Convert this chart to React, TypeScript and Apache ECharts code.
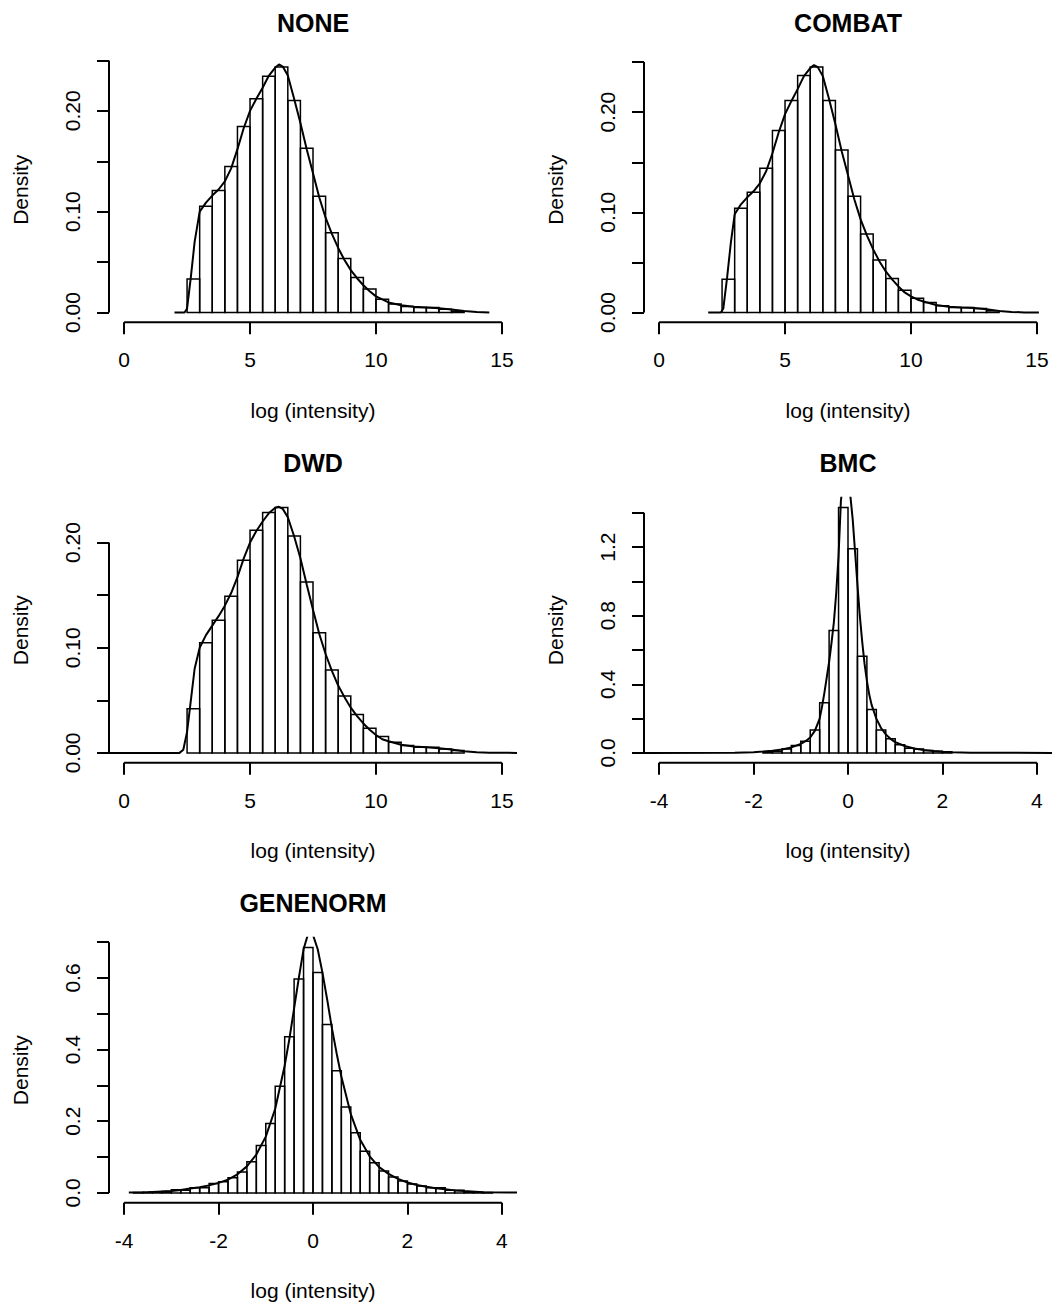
import React, { useEffect, useRef } from "react";
import * as echarts from "echarts";

const FONT = '"Liberation Sans", Arial, Helvetica, sans-serif';

// ---- Text ----
const TITLES = ["NONE", "COMBAT", "DWD", "BMC", "GENENORM"];
const X_NAME = "log (intensity)";
const Y_NAME = "Density";

// ---- Axis ticks ----
const XLIM_INTENSITY = [0, 15];
const XLIM_CENTERED = [-4, 4];
const X_TICKS_INTENSITY = [0, 5, 10, 15];
const X_TICKS_CENTERED = [-4, -2, 0, 2, 4];
const Y_TICKS_SMALL = [0, 0.05, 0.1, 0.15, 0.2, 0.25];
const Y_LABELS_SMALL = [0, 0.1, 0.2];
const Y_TICKS_DWD = [0, 0.05, 0.1, 0.15, 0.2];
const Y_TICKS_BMC = [0, 0.2, 0.4, 0.6, 0.8, 1.0, 1.2, 1.4];
const Y_LABELS_BMC = [0, 0.4, 0.8, 1.2];
const Y_TICKS_GENE = [0, 0.1, 0.2, 0.3, 0.4, 0.5, 0.6, 0.7];
const Y_LABELS_GENE = [0, 0.2, 0.4, 0.6];

// ---- Histogram breaks ----
const NONE_BIN_START = 2.5;
const COMBAT_BIN_START = 2.5;
const DWD_BIN_START = 2.5;
const WIDE_BIN_WIDTH = 0.5;
const BMC_BIN_START = -1.8;
const GENE_BIN_START = -3.8;
const NARROW_BIN_WIDTH = 0.2;

// ---- Histogram densities ----
const NONE_HIST = [0.0331, 0.1053, 0.1209, 0.1447, 0.1844, 0.2119, 0.2344, 0.2434, 0.2103, 0.1629, 0.1152, 0.0791, 0.0536, 0.0348, 0.0232, 0.0132, 0.0083, 0.006, 0.005, 0.005, 0.0033, 0.0013];
const COMBAT_HIST = [0.0333, 0.104, 0.12, 0.144, 0.1817, 0.2117, 0.2367, 0.245, 0.2117, 0.1623, 0.116, 0.0783, 0.0523, 0.034, 0.0223, 0.0143, 0.01, 0.0067, 0.005, 0.005, 0.004, 0.0017];
const DWD_HIST = [0.0419, 0.1048, 0.126, 0.1489, 0.1832, 0.2117, 0.2286, 0.2333, 0.2063, 0.1625, 0.1143, 0.0787, 0.054, 0.0365, 0.0235, 0.0156, 0.0102, 0.007, 0.0054, 0.0054, 0.0038, 0.0022];
const BMC_HIST = [0.006, 0.01, 0.023, 0.043, 0.068, 0.134, 0.292, 0.714, 1.431, 1.191, 0.564, 0.253, 0.134, 0.082, 0.047, 0.027, 0.023, 0.014, 0.01, 0.006];
const GENE_HIST = [0.001, 0.002, 0.003, 0.004, 0.009, 0.0075, 0.014, 0.014, 0.026, 0.031, 0.042, 0.058, 0.087, 0.132, 0.194, 0.298, 0.436, 0.597, 0.685, 0.615, 0.47, 0.341, 0.24, 0.168, 0.116, 0.084, 0.061, 0.044, 0.033, 0.025, 0.019, 0.014, 0.014, 0.0075, 0.0075, 0.003, 0.002, 0.001];

// ---- Kernel density curves [x, density] ----
const NONE_CURVE = [[2.0, 0], [2.4, 0], [2.5, 0.004], [2.65, 0.035], [2.8, 0.07], [3.0, 0.1], [3.25, 0.109], [3.5, 0.116], [3.75, 0.122], [4.0, 0.13], [4.25, 0.143], [4.5, 0.162], [4.75, 0.183], [5.0, 0.2], [5.25, 0.212], [5.5, 0.223], [5.75, 0.235], [6.0, 0.243], [6.15, 0.246], [6.3, 0.244], [6.5, 0.235], [6.75, 0.212], [7.0, 0.188], [7.25, 0.162], [7.5, 0.138], [7.75, 0.114], [8.0, 0.094], [8.25, 0.078], [8.5, 0.064], [8.75, 0.052], [9.0, 0.042], [9.25, 0.034], [9.5, 0.027], [9.75, 0.021], [10.0, 0.016], [10.25, 0.013], [10.5, 0.01], [11.0, 0.0072], [11.5, 0.0056], [12.0, 0.005], [12.5, 0.0042], [13.0, 0.003], [13.5, 0.0015], [14.0, 0.0004], [14.5, 0]];
const COMBAT_CURVE = [[1.95, 0], [2.45, 0], [2.55, 0.004], [2.7, 0.035], [2.85, 0.07], [3.0, 0.098], [3.25, 0.108], [3.5, 0.115], [3.75, 0.121], [4.0, 0.129], [4.25, 0.141], [4.5, 0.159], [4.75, 0.18], [5.0, 0.198], [5.25, 0.211], [5.5, 0.223], [5.75, 0.236], [6.0, 0.244], [6.15, 0.247], [6.3, 0.245], [6.5, 0.236], [6.75, 0.213], [7.0, 0.188], [7.25, 0.161], [7.5, 0.137], [7.75, 0.113], [8.0, 0.093], [8.25, 0.077], [8.5, 0.063], [8.75, 0.051], [9.0, 0.041], [9.25, 0.033], [9.5, 0.026], [9.75, 0.02], [10.0, 0.016], [10.25, 0.013], [10.5, 0.011], [11.0, 0.0075], [11.5, 0.0057], [12.0, 0.005], [12.5, 0.0044], [13.0, 0.0032], [13.5, 0.0016], [14.0, 0.0005], [14.5, 0.0001], [15.08, 0]];
const DWD_CURVE = [[-0.6, 0], [2.2, 0], [2.35, 0.003], [2.5, 0.02], [2.65, 0.05], [2.8, 0.08], [3.0, 0.1], [3.25, 0.112], [3.5, 0.121], [3.75, 0.13], [4.0, 0.14], [4.25, 0.152], [4.5, 0.167], [4.75, 0.185], [5.0, 0.2], [5.25, 0.211], [5.5, 0.22], [5.75, 0.228], [6.0, 0.233], [6.15, 0.234], [6.3, 0.232], [6.5, 0.224], [6.75, 0.206], [7.0, 0.185], [7.25, 0.16], [7.5, 0.136], [7.75, 0.113], [8.0, 0.094], [8.25, 0.078], [8.5, 0.064], [8.75, 0.053], [9.0, 0.043], [9.25, 0.035], [9.5, 0.028], [9.75, 0.022], [10.0, 0.017], [10.25, 0.013], [10.5, 0.011], [11.0, 0.0078], [11.5, 0.006], [12.0, 0.0053], [12.5, 0.0045], [13.0, 0.0032], [13.5, 0.0016], [14.0, 0.0005], [14.5, 0.0001], [15.6, 0]];
const BMC_CURVE = [[-4.32, 0], [-2.4, 0.001], [-2.0, 0.004], [-1.8, 0.008], [-1.6, 0.013], [-1.4, 0.02], [-1.2, 0.032], [-1.0, 0.052], [-0.9, 0.068], [-0.8, 0.09], [-0.7, 0.13], [-0.6, 0.2], [-0.55, 0.27], [-0.5, 0.35], [-0.45, 0.44], [-0.4, 0.53], [-0.35, 0.64], [-0.3, 0.76], [-0.25, 0.93], [-0.2, 1.15], [-0.15, 1.47], [-0.1, 1.6], [-0.05, 1.66], [0.0, 1.63], [0.05, 1.5], [0.1, 1.36], [0.15, 1.17], [0.2, 0.98], [0.25, 0.8], [0.3, 0.65], [0.35, 0.52], [0.4, 0.42], [0.45, 0.34], [0.5, 0.28], [0.6, 0.2], [0.7, 0.145], [0.8, 0.108], [0.9, 0.082], [1.0, 0.063], [1.2, 0.04], [1.4, 0.026], [1.6, 0.017], [1.8, 0.011], [2.0, 0.006], [2.2, 0.003], [2.6, 0.001], [4.32, 0]];
const GENE_CURVE = [[-3.9, 0.001], [-3.5, 0.002], [-3.0, 0.005], [-2.8, 0.008], [-2.6, 0.012], [-2.4, 0.016], [-2.2, 0.021], [-2.0, 0.028], [-1.8, 0.037], [-1.6, 0.052], [-1.4, 0.074], [-1.2, 0.107], [-1.0, 0.157], [-0.8, 0.235], [-0.6, 0.355], [-0.5, 0.43], [-0.4, 0.515], [-0.3, 0.6], [-0.2, 0.68], [-0.1, 0.725], [0.0, 0.72], [0.1, 0.68], [0.2, 0.615], [0.3, 0.54], [0.4, 0.46], [0.5, 0.39], [0.6, 0.325], [0.8, 0.22], [1.0, 0.148], [1.2, 0.102], [1.4, 0.072], [1.6, 0.053], [1.8, 0.039], [2.0, 0.029], [2.2, 0.022], [2.4, 0.017], [2.6, 0.013], [2.8, 0.01], [3.0, 0.007], [3.2, 0.005], [3.6, 0.002], [4.32, 0.001]];

// ---- Layout ----
const GRID_LEFT = [109, 644];
const GRID_TOP = [57.3, 497.7, 937.7];
const GRID_W = 408;
const GRID_H = 265;
const AXIS_W = 2;
const BAR_W = 1.5;
const CURVE_W = 2;

type Panel = {
  title: string; row: number; col: number;
  hist: number[]; start: number; width: number; curve: number[][];
  xlim: number[]; xTicks: number[]; yTicks: number[]; yLabels: number[]; yDigits: number;
};

const PANELS: Panel[] = [
  { title: TITLES[0], row: 0, col: 0, hist: NONE_HIST, start: NONE_BIN_START, width: WIDE_BIN_WIDTH, curve: NONE_CURVE, xlim: XLIM_INTENSITY, xTicks: X_TICKS_INTENSITY, yTicks: Y_TICKS_SMALL, yLabels: Y_LABELS_SMALL, yDigits: 2 },
  { title: TITLES[1], row: 0, col: 1, hist: COMBAT_HIST, start: COMBAT_BIN_START, width: WIDE_BIN_WIDTH, curve: COMBAT_CURVE, xlim: XLIM_INTENSITY, xTicks: X_TICKS_INTENSITY, yTicks: Y_TICKS_SMALL, yLabels: Y_LABELS_SMALL, yDigits: 2 },
  { title: TITLES[2], row: 1, col: 0, hist: DWD_HIST, start: DWD_BIN_START, width: WIDE_BIN_WIDTH, curve: DWD_CURVE, xlim: XLIM_INTENSITY, xTicks: X_TICKS_INTENSITY, yTicks: Y_TICKS_DWD, yLabels: Y_LABELS_SMALL, yDigits: 2 },
  { title: TITLES[3], row: 1, col: 1, hist: BMC_HIST, start: BMC_BIN_START, width: NARROW_BIN_WIDTH, curve: BMC_CURVE, xlim: XLIM_CENTERED, xTicks: X_TICKS_CENTERED, yTicks: Y_TICKS_BMC, yLabels: Y_LABELS_BMC, yDigits: 1 },
  { title: TITLES[4], row: 2, col: 0, hist: GENE_HIST, start: GENE_BIN_START, width: NARROW_BIN_WIDTH, curve: GENE_CURVE, xlim: XLIM_CENTERED, xTicks: X_TICKS_CENTERED, yTicks: Y_TICKS_GENE, yLabels: Y_LABELS_GENE, yDigits: 1 },
];

function buildOption() {
  const grid: any[] = [];
  const xAxis: any[] = [];
  const yAxis: any[] = [];
  const series: any[] = [];
  const graphic: any[] = [];

  PANELS.forEach((p, i) => {
    const left = GRID_LEFT[p.col];
    const top = GRID_TOP[p.row];
    const ymax = Math.max(...p.hist);
    const yMin = -0.04 * ymax;
    const yMax = 1.04 * ymax;
    const xr = p.xlim[1] - p.xlim[0];
    const xMin = p.xlim[0] - 0.04 * xr;
    const xMax = p.xlim[1] + 0.04 * xr;

    grid.push({ left, top, width: GRID_W, height: GRID_H, containLabel: false });

    xAxis.push({
      gridIndex: i, type: "value", min: xMin, max: xMax, position: "bottom",
      axisLine: { show: false, onZero: false }, splitLine: { show: false },
      axisTick: { show: true, inside: false, customValues: p.xTicks, length: 12, lineStyle: { color: "#000", width: AXIS_W } },
      axisLabel: { customValues: p.xTicks, margin: 27, fontSize: 21, fontFamily: FONT, color: "#000", formatter: (v: number) => String(v) },
    });
    yAxis.push({
      gridIndex: i, type: "value", min: yMin, max: yMax, position: "left",
      axisLine: { show: false, onZero: false }, splitLine: { show: false },
      axisTick: { show: true, inside: false, customValues: p.yTicks, length: 12, lineStyle: { color: "#000", width: AXIS_W } },
      axisLabel: { customValues: p.yLabels, rotate: 90, margin: 26, fontSize: 21, fontFamily: FONT, color: "#000", formatter: (v: number) => v.toFixed(p.yDigits) },
    });

    const bars = p.hist.map((h, k) => [p.start + k * p.width, p.start + (k + 1) * p.width, h]);
    series.push({
      type: "custom", xAxisIndex: i, yAxisIndex: i, data: bars, clip: true, silent: true,
      encode: { x: [0, 1], y: 2 },
      renderItem: (_params: any, api: any) => {
        const a = api.coord([api.value(0), api.value(2)]);
        const b = api.coord([api.value(1), 0]);
        return {
          type: "rect",
          shape: { x: a[0], y: a[1], width: b[0] - a[0], height: b[1] - a[1] },
          style: { fill: "none", stroke: "#000", lineWidth: BAR_W },
        };
      },
    });
    series.push({
      type: "line", xAxisIndex: i, yAxisIndex: i, data: p.curve, showSymbol: false, symbol: "none",
      clip: true, silent: true, lineStyle: { color: "#000", width: CURVE_W }, z: 3,
    });
    // R-style axis lines spanning only first to last tick
    series.push({
      type: "line", xAxisIndex: i, yAxisIndex: i, clip: false, silent: true, symbol: "none",
      data: [[p.xTicks[0], yMin], [p.xTicks[p.xTicks.length - 1], yMin]],
      lineStyle: { color: "#000", width: AXIS_W },
    });
    series.push({
      type: "line", xAxisIndex: i, yAxisIndex: i, clip: false, silent: true, symbol: "none",
      data: [[xMin, p.yTicks[0]], [xMin, p.yTicks[p.yTicks.length - 1]]],
      lineStyle: { color: "#000", width: AXIS_W },
    });

    const cx = left + GRID_W / 2;
    graphic.push({
      type: "text", x: cx, y: top - 34.8,
      style: { text: p.title, fontSize: 25, fontWeight: "bold", fontFamily: FONT, fill: "#000", align: "center", verticalAlign: "middle", textAlign: "center", textVerticalAlign: "middle" },
    });
    graphic.push({
      type: "text", x: cx, y: top + GRID_H + 88,
      style: { text: X_NAME, fontSize: 21, fontFamily: FONT, fill: "#000", align: "center", verticalAlign: "middle", textAlign: "center", textVerticalAlign: "middle" },
    });
    graphic.push({
      type: "text", x: left - 89, y: top + GRID_H / 2, rotation: Math.PI / 2,
      style: { text: Y_NAME, fontSize: 21, fontFamily: FONT, fill: "#000", align: "center", verticalAlign: "middle", textAlign: "center", textVerticalAlign: "middle" },
    });
  });

  return { animation: false, backgroundColor: "#ffffff", grid, xAxis, yAxis, series, graphic };
}

export default function App() {
  const ref = useRef<HTMLDivElement>(null);
  useEffect(() => {
    if (!ref.current) return;
    const chart = echarts.init(ref.current, undefined, { renderer: "svg" });
    chart.setOption(buildOption());
    return () => chart.dispose();
  }, []);
  return (
    <div
      ref={ref}
      style={{ position: "absolute", left: 0, top: 0, width: 1052, height: 1309, background: "#fff" }}
    />
  );
}
